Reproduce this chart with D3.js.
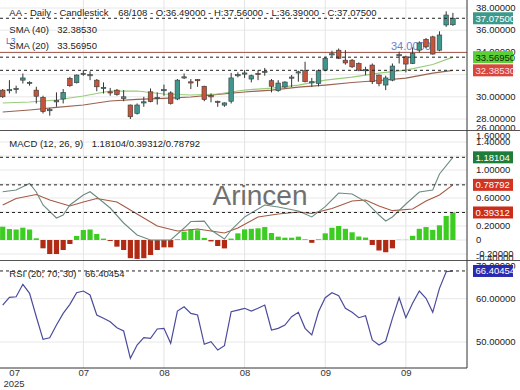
<!DOCTYPE html>
<html>
<head>
<meta charset="utf-8">
<script src="https://cdn.jsdelivr.net/npm/d3@7"></script>
<style>
  body { margin: 0; background: #fff; }
  svg { display: block; font-family: "Liberation Sans", Arial, sans-serif; }
</style>
</head>
<body>
<svg></svg>
<script>
// ---- data ----
const opens  = [30.6,30.55,30.65,31.5,31.2,30.6,29.95,28.75,29.55,29.8,31.67,31.27,32.1,31.95,31.5,30.8,30.45,30.6,29.85,29.26,28.5,29.45,30.45,29.9,30.6,30.35,29.8,31.7,31.35,31.55,30.95,30.1,29.6,29.25,29.6,31.95,32.1,31.6,32.1,32.2,31.45,30.55,30.88,31.72,32.2,32.35,31.3,31.2,32.4,33.82,34.2,33.3,33.3,33.0,32.35,32.86,31.96,31.06,31.5,33.72,33.6,33.0,34.2,35.18,35.4,34.2,36.47,36.49]
const highs  = [30.7,31.5,31.0,32.1,31.4,30.9,30.1,29.0,30.4,30.7,31.8,32.0,32.4,32.3,31.6,31.3,30.8,30.7,30.6,29.3,29.4,30.0,30.75,30.4,31.1,30.5,31.6,32.1,31.6,31.6,31.0,30.3,29.65,29.5,32.15,32.2,32.4,32.0,32.4,32.6,31.6,31.5,31.4,31.96,32.35,33.16,31.7,32.45,33.6,34.15,34.35,34.2,33.4,33.1,32.7,33.0,32.0,31.9,33.0,34.06,33.7,34.45,35.0,35.3,35.5,35.9,37.7,37.56]
const lows   = [29.9,30.3,30.3,31.2,31.0,29.4,28.5,28.3,29.1,29.4,30.9,31.2,31.9,31.5,30.5,30.3,30.1,30.1,29.6,28.0,28.4,29.1,29.5,29.3,30.1,29.3,29.7,31.6,30.7,30.9,29.6,29.5,29.1,29.1,29.4,31.75,31.7,31.3,31.5,31.9,30.4,30.45,30.8,30.88,31.36,31.3,30.9,30.95,32.3,33.6,33.4,32.9,32.6,32.3,31.95,31.15,30.95,30.6,31.4,33.0,32.2,32.95,34.0,34.4,33.8,34.1,36.3,36.39]
const closes = [30.0,30.65,30.75,31.7,31.3,30.05,28.66,28.85,29.65,30.4,31.0,31.96,32.12,32.0,30.9,30.85,30.4,30.2,30.0,28.2,29.26,29.55,29.56,29.95,30.65,29.4,31.5,31.8,31.3,31.5,29.75,30.05,29.55,29.45,31.7,32.0,32.15,31.9,32.05,32.3,30.95,31.24,31.33,31.78,32.25,31.36,31.36,32.35,33.47,33.88,33.47,33.05,32.7,32.4,32.45,31.36,31.2,31.7,32.77,33.8,32.95,33.9,34.85,34.5,33.85,35.57,37.37,37.075]

const smaAt = [0,4,8,12,16,20,24,28,32,36,40,44,48,52,56,60,64,67]
const sma20 = [29.44,29.53,29.71,30.07,30.52,30.52,30.25,30.16,30.25,30.61,30.79,31.06,31.51,31.78,32.14,32.41,32.91,33.5695]
const sma40 = [28.63,28.81,29.04,29.26,29.62,29.76,29.85,29.98,30.21,30.43,30.61,30.88,31.06,31.29,31.47,31.69,32.14,32.3853]

const macdAt  = [0,2,4,5,6,8,9,10,12,13,14,16,18,20,22,25,27,28,30,31,33,34,36,39,41,44,46,48,50,52,54,56,57,58,60,62,64,65,67]
const macdVal = [0.69,0.714,0.807,0.686,0.5,0.314,0.357,0.5,0.643,0.69,0.614,0.457,0.243,0.071,0.0,0.0,0.171,0.264,0.27,0.143,0.014,0.143,0.329,0.5,0.471,0.414,0.329,0.476,0.671,0.657,0.547,0.357,0.271,0.329,0.514,0.686,0.714,0.943,1.18104]
const signalAt  = [0,2,5,7,10,12,14,17,20,23,26,29,31,33,35,38,41,44,46,49,52,54,56,58,61,63,65,67]
const signalVal = [0.5,0.593,0.65,0.571,0.486,0.543,0.593,0.543,0.371,0.2,0.129,0.157,0.129,0.1,0.171,0.329,0.371,0.4,0.379,0.45,0.557,0.571,0.486,0.419,0.443,0.557,0.643,0.78792]
const hist = [0.19,0.157,0.15,0.176,0.15,0.024,-0.119,-0.2,-0.2,-0.143,-0.057,0.057,0.143,0.15,0.086,0.02,-0.014,-0.095,-0.143,-0.26,-0.27,-0.26,-0.214,-0.143,-0.105,-0.105,0.01,0.119,0.15,0.14,0.03,-0.02,-0.086,-0.12,0.02,0.095,0.152,0.16,0.167,0.185,0.1,0.048,0.033,0.033,0.048,0.01,-0.04,0.01,0.095,0.175,0.2,0.16,0.11,0.05,0.035,-0.071,-0.15,-0.175,-0.119,0.003,0.003,0.06,0.16,0.185,0.145,0.21,0.343,0.39312]

const rsi = [58.54,60.32,60.45,63.32,61.24,55.84,50.62,50.99,53.92,56.62,58.7,61.38,61.77,60.85,56.23,55.47,54.68,53.3,52.54,46.24,49.31,50.99,50.85,53.0,53.16,49.7,57.15,58.15,56.62,56.23,49.47,50.07,48.15,49.15,56.99,57.38,57.78,57.15,57.78,58.54,52.77,53.16,53.92,55.84,56.85,53.16,51.62,56.99,60.22,61.38,60.68,57.78,56.85,55.61,56.07,50.46,49.31,50.23,55.47,60.22,55.61,58.93,61.77,60.09,56.85,62.39,66.22,66.40454]

// grid levels and the labels that show (the rest sit under the value boxes)
const priceGrid = [38,36,34,32,30,28]
const priceTicks = [38,36,34,30,28,26]
const macdGrid = [1.4,1.2,1.0,0.8,0.6,0.4,0.2,0,-0.2]
const macdTicks = [1.6,1.4,1.0,0.6,0.2,0,-0.2,-0.4]
const rsiGrid = [60,50]
const rsiTicks = [70,60,50]
const dateIdx = [1.7,12,24,36,48,60]
const dateLabels = ["07","07","08","08","09","09"]
const level = 34.0

// ---- layout ----
const width = 520, height = 390
const right = 467
const fs = 9.5
const svg = d3.select("svg").attr("width", width).attr("height", height)

const x = d3.scaleLinear().domain([0, 67]).range([2.7, 452.9])
const yPrice = d3.scaleLinear().domain([38, 28]).range([8, 119])
const yMacd = d3.scaleLinear().domain([0, 1]).range([240, 170])
const yRsi = d3.scaleLinear().domain([50, 60]).range([342, 298.7])

const panels = [
  { id: "p", y: yPrice, top: 0, bottom: 130.5, ticks: priceTicks, grid: priceGrid, clip: true },
  { id: "m", y: yMacd, top: 131, bottom: 260.5, ticks: macdTicks, grid: macdGrid, clip: false },
  { id: "r", y: yRsi, top: 261, bottom: 368, ticks: rsiTicks, grid: rsiGrid, clip: false }
]

const fmt = d3.formatLocale({ decimal: ".", thousands: ",", grouping: [3], currency: ["", ""], minus: "-" }).format(".5f")

svg.append("defs").append("clipPath").attr("id", "clip-p")
  .append("rect").attr("x", right).attr("y", 0).attr("width", width - right).attr("height", 130)

// grid
panels.forEach(p => {
  svg.append("g").selectAll("line")
    .data(p.grid)
    .enter().append("line")
    .attr("x1", 0).attr("x2", right)
    .attr("y1", d => p.y(d)).attr("y2", d => p.y(d))
    .attr("stroke", "#e8e8e8")
})
svg.append("g").selectAll("line")
  .data(dateIdx.slice(1))
  .enter().append("line")
  .attr("x1", d => x(d)).attr("x2", d => x(d))
  .attr("y1", 0).attr("y2", 368)
  .attr("stroke", "#e4e4e4")

// watermark
svg.append("text")
  .attr("x", 260).attr("y", 205)
  .attr("text-anchor", "middle")
  .style("font-size", "28px")
  .attr("fill", "#707070")
  .text("Arincen")

// right axes
panels.forEach(p => {
  const g = svg.append("g")
    .attr("clip-path", p.clip ? "url(#clip-p)" : null)
    .append("g")
    .attr("transform", `translate(${right},0)`)
    .call(d3.axisRight(p.y).tickValues(p.ticks).tickSize(0).tickPadding(9)
      .tickFormat(d => d === 0 ? "0" : fmt(d)))
  g.select(".domain").remove()
  g.selectAll(".tick")
    .attr("transform", d => `translate(0,${Math.max(p.top + 4.5, Math.min(p.bottom - 2.5, p.y(d)))})`)
  g.selectAll("text")
    .style("font-size", fs + "px")
    .style("font-family", "'Liberation Sans', Arial, sans-serif")
    .attr("fill", "#222")
})

// level line 34.0
svg.append("line")
  .attr("x1", 0).attr("x2", right)
  .attr("y1", yPrice(level)).attr("y2", yPrice(level))
  .attr("stroke", "#a0544a")
svg.append("text").attr("x", 6).attr("y", 44)
  .style("font-size", "8.5px").attr("fill", "#5a66c0").text("L3")
svg.append("text").attr("x", 391).attr("y", 49.5)
  .style("font-size", "11px").attr("fill", "#6f7ad0").text("34.0000")

// sma lines
const priceLine = d3.line().x(d => x(d[0])).y(d => yPrice(d[1]))
svg.append("path").datum(d3.zip(smaAt, sma40))
  .attr("d", priceLine).attr("fill", "none").attr("stroke", "#9a6250").attr("stroke-width", 1.2)
svg.append("path").datum(d3.zip(smaAt, sma20))
  .attr("d", priceLine).attr("fill", "none").attr("stroke", "#98cc78").attr("stroke-width", 1.2)

// candles
const candles = svg.append("g").selectAll("g")
  .data(d3.range(opens.length))
  .enter().append("g")
candles.append("line")
  .attr("x1", i => x(i)).attr("x2", i => x(i))
  .attr("y1", i => yPrice(highs[i])).attr("y2", i => yPrice(lows[i]))
  .attr("stroke", "#333")
candles.append("rect")
  .attr("x", i => x(i) - 2.3)
  .attr("width", 4.6)
  .attr("y", i => yPrice(Math.max(opens[i], closes[i])))
  .attr("height", i => Math.max(1.2, Math.abs(yPrice(opens[i]) - yPrice(closes[i]))))
  .attr("fill", i => closes[i] >= opens[i] ? "#3f968d" : "#c4553b")
  .attr("stroke", "#3a3a3a").attr("stroke-width", 0.6)

// macd histogram and lines
svg.append("g").selectAll("rect")
  .data(hist)
  .enter().append("rect")
  .attr("x", (d, i) => x(i) - 2.6)
  .attr("width", 5.2)
  .attr("y", d => yMacd(Math.max(0, d)))
  .attr("height", d => Math.abs(yMacd(d) - yMacd(0)))
  .attr("fill", d => d >= 0 ? "#3ccc22" : "#b02a14")
const macdLine = d3.line().x(d => x(d[0])).y(d => yMacd(d[1]))
svg.append("path").datum(d3.zip(signalAt, signalVal))
  .attr("d", macdLine).attr("fill", "none").attr("stroke", "#a45a42").attr("stroke-width", 1.1)
svg.append("path").datum(d3.zip(macdAt, macdVal))
  .attr("d", macdLine).attr("fill", "none").attr("stroke", "#6d8c80").attr("stroke-width", 1.1)

// rsi
svg.append("path").datum(rsi)
  .attr("d", d3.line().x((d, i) => x(i)).y(d => yRsi(d)))
  .attr("fill", "none").attr("stroke", "#4b4b9c").attr("stroke-width", 1.2)

// dashed value lines + boxes
const marks = [
  { y: yPrice(closes[67]), text: "37.07500", bg: "#3c9a8c", fg: "#fff" },
  { y: yPrice(sma20[sma20.length - 1]), text: "33.56950", bg: "#5ccf38", fg: "#102a08" },
  { y: yPrice(sma40[sma40.length - 1]), text: "32.38530", bg: "#d9473a", fg: "#fde" },
  { y: yMacd(macdVal[macdVal.length - 1]), text: "1.18104", bg: "#1f7d3a", fg: "#fff" },
  { y: yMacd(signalVal[signalVal.length - 1]), text: "0.78792", bg: "#d23322", fg: "#fff" },
  { y: yMacd(hist[hist.length - 1]), text: "0.39312", bg: "#cc2c1a", fg: "#fff" },
  { y: yRsi(rsi[rsi.length - 1]), text: "66.40454", bg: "#2a2ab0", fg: "#fff" }
]
svg.append("g").selectAll("line")
  .data(marks).enter().append("line")
  .attr("x1", 0).attr("x2", right)
  .attr("y1", d => d.y).attr("y2", d => d.y)
  .attr("stroke", "#222").attr("stroke-dasharray", "3,3")
const box = svg.append("g").selectAll("g")
  .data(marks).enter().append("g")
box.append("rect")
  .attr("x", 473).attr("y", d => d.y - 6).attr("width", 40).attr("height", 12)
  .attr("fill", d => d.bg)
box.append("text")
  .attr("x", 475.5).attr("y", d => d.y).attr("dy", "0.35em")
  .style("font-size", fs + "px").attr("fill", d => d.fg)
  .text(d => d.text)

// legends
const legend = [
  { x: 9.3, y: 12.7, t: "AA - Daily - Candlestick" },
  { x: 118.3, y: 12.7, t: "68/108 - O:36.49000 - H:37.56000 - L:36.39000 - C:37.07500" },
  { x: 9.3, y: 29.3, t: "SMA (40)" },
  { x: 57.3, y: 29.3, t: "32.38530" },
  { x: 9.3, y: 45.7, t: "SMA (20)" },
  { x: 57.3, y: 45.7, t: "33.56950" },
  { x: 9.3, y: 143.3, t: "MACD (12, 26, 9)" },
  { x: 91.7, y: 143.3, t: "1.18104/0.39312/0.78792" },
  { x: 9.3, y: 274, t: "RSI (20; 70; 30)" },
  { x: 85, y: 274, t: "66.40454" }
]
svg.append("g").selectAll("text")
  .data(legend).enter().append("text")
  .attr("x", d => d.x).attr("y", d => d.y).attr("dy", "0.35em")
  .style("font-size", fs + "px").attr("fill", "#222")
  .text(d => d.t)

// frame
svg.append("line").attr("x1", 0).attr("x2", width).attr("y1", 130.5).attr("y2", 130.5).attr("stroke", "#555")
svg.append("line").attr("x1", 0).attr("x2", width).attr("y1", 260.5).attr("y2", 260.5).attr("stroke", "#555")
svg.append("line").attr("x1", 0).attr("x2", right).attr("y1", 368).attr("y2", 368).attr("stroke", "#333")
svg.append("line").attr("x1", right).attr("x2", right).attr("y1", 0).attr("y2", 368).attr("stroke", "#333")

// date axis
const xa = svg.append("g")
  .attr("transform", "translate(0,368)")
  .call(d3.axisBottom(x).tickValues(dateIdx).tickSize(0).tickPadding(1)
    .tickFormat((d, i) => dateLabels[i]))
xa.select(".domain").remove()
xa.selectAll("text")
  .style("font-size", fs + "px")
  .style("font-family", "'Liberation Sans', Arial, sans-serif")
  .attr("fill", "#333")
svg.append("text").attr("x", 3.5).attr("y", 387)
  .style("font-size", fs + "px").attr("fill", "#333").text("2025")
</script>
</body>
</html>
